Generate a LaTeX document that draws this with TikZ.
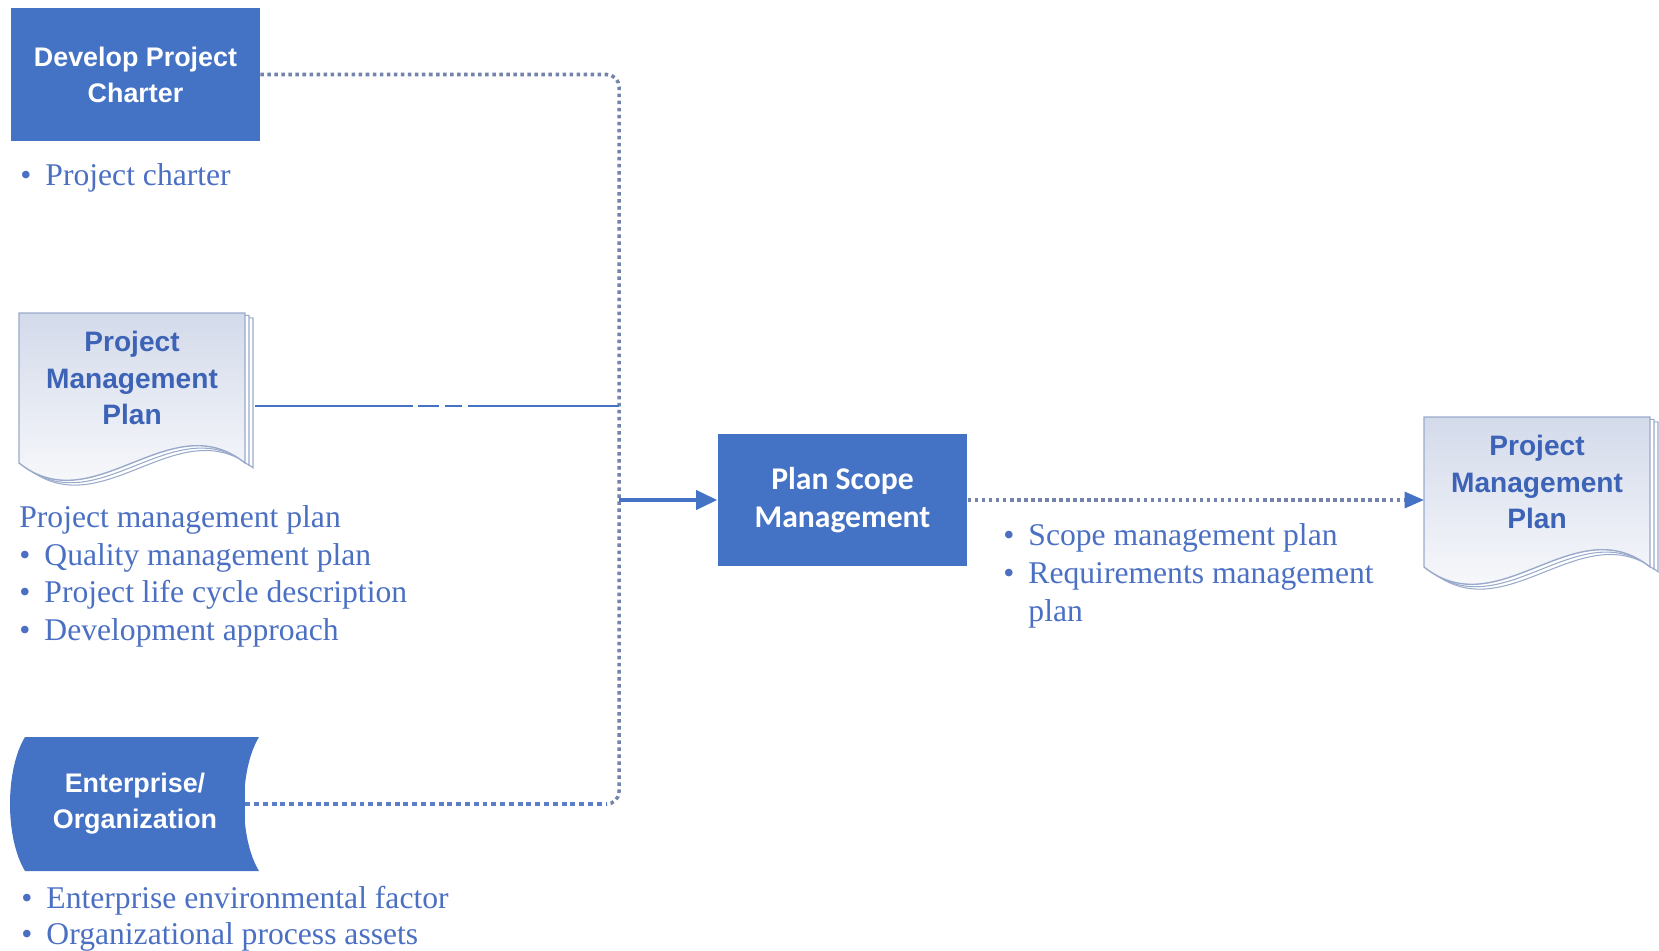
\documentclass[tikz,border=0pt]{standalone}
\usepackage{fontspec}
\setmainfont{Liberation Serif}
\newfontfamily\headfont{Liberation Sans}
\newfontfamily\calfont{Carlito}
\usetikzlibrary{arrows.meta,positioning}

\definecolor{boxblue}{HTML}{4472C4}
\definecolor{listblue}{HTML}{4B70C3}
\definecolor{docblue}{HTML}{3D63B7}
\definecolor{docedge}{HTML}{9AAACB}
\definecolor{docgray}{HTML}{D3DAEA}
\definecolor{linkgray}{HTML}{7483AC}
\definecolor{linkblue}{HTML}{5C7EC6}

\tikzset{
  docpage/.pic={
    \foreach \d in {8,4}
      \draw[docedge, fill=white, line width=0.6pt, shift={(\d,0.6*\d)}]
        (0,0) -- (226,0) -- (226,150) .. controls (151,90) and (75,210) .. (0,150) -- cycle;
    \draw[docedge, line width=0.8pt, top color=docgray, bottom color=white]
      (0,0) -- (226,0) -- (226,150) .. controls (151,90) and (75,210) .. (0,150) -- cycle;
    \node[doctitle] (-title) at (113,65) {Project\\Management\\Plan};
    \coordinate (-in) at (0,83);
    \coordinate (-out) at (236,93);
  }
}

\begin{document}
\begin{tikzpicture}[x=0.02cm, y=-0.02cm]
  \tikzstyle{task} = [fill=boxblue, text=white, align=center, inner sep=0pt,
    font=\headfont\bfseries\fontsize{15.3}{20.4}\selectfont]
  \tikzstyle{doctitle} = [text=docblue, align=center, inner sep=0pt,
    font=\headfont\bfseries\fontsize{16}{21}\selectfont]
  \tikzstyle{items} = [text=listblue, align=left, inner sep=0pt, anchor=north west,
    font=\fontsize{18}{21.5}\selectfont]
  \tikzstyle{flow} = [linkgray, line width=2pt, dash pattern=on 2pt off 2pt]
  \tikzstyle{flowblue} = [linkblue, line width=2.2pt, dash pattern=on 2.8pt off 2.2pt]
  \tikzstyle{plan} = [boxblue, line width=1.3pt,
    dash pattern=on 90pt off 3pt on 12pt off 3pt on 10pt off 3pt]
  \tikzstyle{feed} = [boxblue, line width=1.8pt, -{Triangle[length=12pt,width=11pt]}]
  \useasboundingbox (0,0) rectangle (1659,950);

  % inputs
  \node[task, minimum width=4.98cm, minimum height=2.66cm] (dpc) at (135.5,74.5) {Develop Project\\Charter};
  \node[items] (dpcitems) at (20,163) {\textbullet\hspace{8pt}Project charter};

  \pic (pmpa) at (19,313) {docpage};
  \node[items] (pmpitems) at (19,505) {Project management plan\\
    \textbullet\hspace{8pt}Quality management plan\\
    \textbullet\hspace{8pt}Project life cycle description\\
    \textbullet\hspace{8pt}Development approach};

  \fill[boxblue] (25,737) -- (259,737) .. controls (239,770) and (239,838) .. (259,871)
    -- (25,871) .. controls (5,838) and (5,770) .. (25,737) -- cycle;
  \node[task, minimum width=4.4cm] (eo) at (135,804) {Enterprise/\\Organization};
  \node[items, font=\fontsize{18}{20.5}\selectfont] (eoitems) at (21,886) {\textbullet\hspace{8pt}Enterprise environmental factor\\
    \textbullet\hspace{8pt}Organizational process assets};

  % process
  \node[task, font=\calfont\bfseries\fontsize{18}{21.5}\selectfont,
    minimum width=5cm, minimum height=2.64cm] (psm) at (842.5,500) {Plan Scope\\Management};

  % output
  \pic (pmpb) at (1424,417) {docpage};
  \node[items, font=\fontsize{18}{21.8}\selectfont] (psmitems) at (1003,523) {\textbullet\hspace{8pt}Scope management plan\\
    \textbullet\hspace{8pt}Requirements management\\
    \phantom{\textbullet}\hspace{8pt}plan};

  % connectors
  \coordinate (jtop) at (619,74.5);
  \coordinate (jmid) at (619,500);
  \coordinate (jbot) at (619,804);
  \coordinate (jturn) at (606,804);
  \draw[flow, rounded corners=7pt] (dpc.east) -- (jtop) -- (jbot) -- (jturn);
  \draw[flowblue] (eo.east) -- (jturn);
  \draw[plan] (pmpa-out) -- (pmpa-out -| jtop);
  \draw[feed] (jmid) -- (psm.west);
  \draw[flow, -{Triangle[length=11pt,width=9pt,fill=boxblue,color=boxblue]}] (psm.east) -- (pmpb-in);
\end{tikzpicture}
\end{document}
